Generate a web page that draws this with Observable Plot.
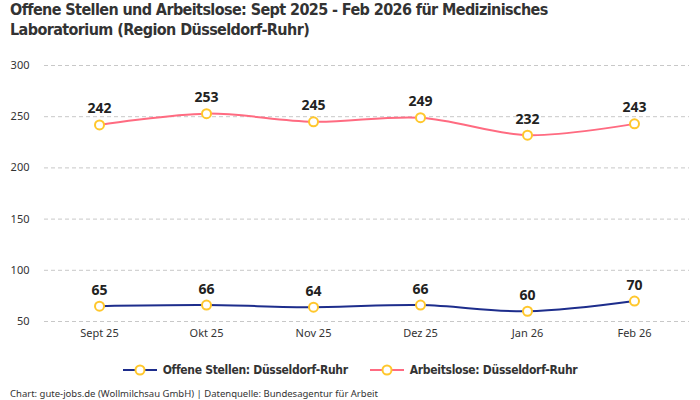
<!DOCTYPE html>
<html>
<head>
<meta charset="utf-8">
<script src="https://cdn.jsdelivr.net/npm/d3@7"></script>
<script src="https://cdn.jsdelivr.net/npm/@observablehq/plot@0.6"></script>
<style>
  html, body { margin: 0; padding: 0; background: #fff; }
  body { width: 700px; height: 400px; position: relative; overflow: hidden; font-family: "Noto Sans", sans-serif; }
  #title { position: absolute; left: 10px; top: 0px; width: 690px; font-family: "DejaVu Sans Condensed", sans-serif; font-weight: bold; font-size: 16px; letter-spacing: -0.6px; line-height: 20px; color: #333; }
  #chart { position: absolute; left: 0; top: 48px; }
  #legend { position: absolute; left: 0; top: 363px; width: 700px; display: flex; justify-content: center; gap: 22px; font-family: "DejaVu Sans Condensed", sans-serif; font-weight: bold; font-size: 12px; letter-spacing: -0.3px; color: #333; }
  #legend .item { display: flex; align-items: center; gap: 6px; }
  #caption { position: absolute; left: 10px; top: 387px; font-family: "Noto Sans", sans-serif; font-size: 9.5px; color: #333; }
</style>
</head>
<body>
<div id="title">Offene Stellen und Arbeitslose: Sept 2025 - Feb 2026 für Medizinisches<br>Laboratorium (Region Düsseldorf-Ruhr)</div>
<div id="chart"></div>
<div id="legend"></div>
<div id="caption">Chart: gute-jobs.de (Wollmilchsau GmbH) | Datenquelle: Bundesagentur für Arbeit</div>
<script>
const months = ["Sept 25", "Okt 25", "Nov 25", "Dez 25", "Jan 26", "Feb 26"];
const offeneStellen = [65, 66, 64, 66, 60, 70];
const arbeitslose = [242, 253, 245, 249, 232, 243];
const yTicks = [50, 100, 150, 200, 250, 300];
const seriesNames = ["Offene Stellen: Düsseldorf-Ruhr", "Arbeitslose: Düsseldorf-Ruhr"];
const seriesColors = ["#1d2d8c", "#ff6b81"];
const markerStroke = "#ffc72c";

const data = [];
months.forEach((m, i) => {
  data.push({month: m, value: offeneStellen[i], series: seriesNames[0]});
  data.push({month: m, value: arbeitslose[i], series: seriesNames[1]});
});

const chart = Plot.plot({
  width: 700,
  height: 300,
  marginTop: 17,
  marginBottom: 27,
  marginLeft: 44,
  marginRight: 11,
  style: {fontFamily: "Noto Sans, sans-serif", fontSize: "11px", color: "#333"},
  x: {type: "point", domain: months, padding: 0.5, label: null},
  y: {domain: [50, 300], ticks: yTicks, label: null},
  color: {domain: seriesNames, range: seriesColors},
  marks: [
    Plot.gridY(yTicks, {stroke: "#c8c8c8", strokeOpacity: 1, strokeDasharray: "4,3"}),
    Plot.axisY(yTicks, {tickSize: 0, tickPadding: 15, fontSize: 11, label: null}),
    Plot.axisX({tickSize: 0, tickPadding: 8, fontSize: 11, label: null}),
    Plot.line(data, {x: "month", y: "value", z: "series", stroke: "series", strokeWidth: 2, curve: "catmull-rom"}),
    Plot.dot(data, {x: "month", y: "value", r: 4.5, fill: "white", stroke: markerStroke, strokeWidth: 2}),
    Plot.text(data, {x: "month", y: "value", text: d => String(d.value), dy: -16, fontSize: 14, fontWeight: "bold", fill: "#222"})
  ]
});
document.getElementById("chart").appendChild(chart);

const legend = document.getElementById("legend");
seriesNames.forEach((name, i) => {
  const item = document.createElement("div");
  item.className = "item";
  item.innerHTML = `<svg width="34" height="12"><line x1="0" y1="6" x2="34" y2="6" stroke="${seriesColors[i]}" stroke-width="2"/><circle cx="17" cy="6" r="4.5" fill="white" stroke="${markerStroke}" stroke-width="2"/></svg><span>${name}</span>`;
  legend.appendChild(item);
});
</script>
</body>
</html>
